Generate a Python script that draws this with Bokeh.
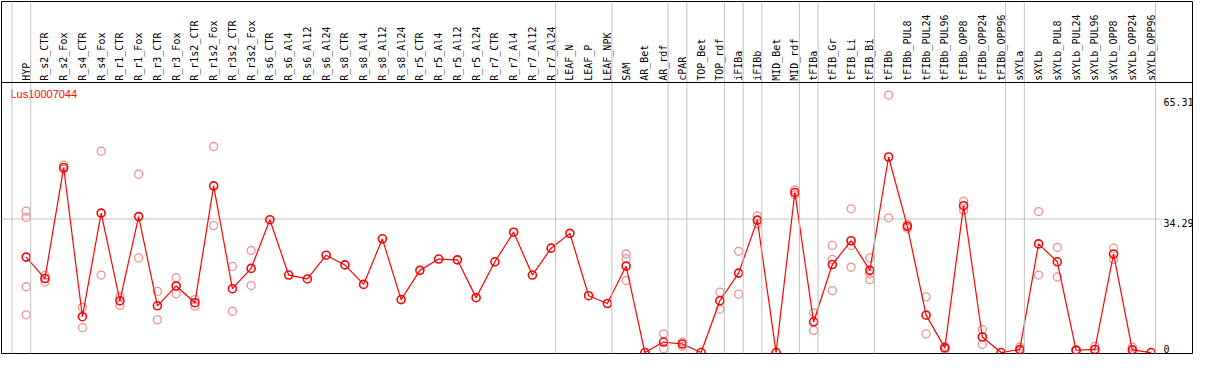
import math
from bokeh.plotting import figure
from bokeh.models import Range1d, Span
from bokeh.core.properties import value
from bokeh.embed import file_html
from bokeh.resources import INLINE

gene = "Lus10007044"

categories = [
    "HYP", "R_s2_CTR", "R_s2_Fox", "R_s4_CTR", "R_s4_Fox", "R_r1_CTR", "R_r1_Fox",
    "R_r3_CTR", "R_r3_Fox", "R_r1s2_CTR", "R_r1s2_Fox", "R_r3s2_CTR", "R_r3s2_Fox",
    "R_s6_CTR", "R_s6_Al4", "R_s6_Al12", "R_s6_Al24", "R_s8_CTR", "R_s8_Al4",
    "R_s8_Al12", "R_s8_Al24", "R_r5_CTR", "R_r5_Al4", "R_r5_Al12", "R_r5_Al24",
    "R_r7_CTR", "R_r7_Al4", "R_r7_Al12", "R_r7_Al24", "LEAF_N", "LEAF_P", "LEAF_NPK",
    "SAM", "AR_Bet", "AR_rdf", "cPAR", "TOP_Bet", "TOP_rdf", "iFIBa", "iFIBb",
    "MID_Bet", "MID_rdf", "tFIBa", "tFIB_Gr", "tFIB_Li", "tFIB_Bi", "tFIBb",
    "tFIBb_PUL8", "tFIBb_PUL24", "tFIBb_PUL96", "tFIBb_OPP8", "tFIBb_OPP24",
    "tFIBb_OPP96", "sXYLa", "sXYLb", "sXYLb_PUL8", "sXYLb_PUL24", "sXYLb_PUL96",
    "sXYLb_OPP8", "sXYLb_OPP24", "sXYLb_OPP96",
]

means = [
    24.5, 19.0, 47.5, 9.2, 35.8, 13.3, 34.9, 12.0, 17.1, 12.8, 42.8, 16.4, 21.6,
    34.1, 19.9, 18.9, 25.0, 22.5, 17.5, 29.2, 13.6, 21.1, 24.0, 23.8, 14.1,
    23.3, 30.9, 19.9, 26.8, 30.6, 14.6, 12.6,
    22.2, 0.0, 2.7, 2.2, 0.0, 13.3, 20.4, 34.0, 0.0, 41.1, 7.9, 22.6, 28.7, 21.1,
    50.2, 32.4, 9.6, 1.2, 37.7, 4.0, 0.0,
    0.8, 27.9, 23.3, 0.6, 0.8, 25.3, 0.7, 0.0,
]

replicates = [
    [36.3, 34.7, 16.9, 9.7], [19.8, 18.1], [48.1, 47.1], [11.6, 6.4], [51.7, 19.9],
    [14.3, 12.1], [45.8, 24.3], [15.7, 8.4], [19.2, 15.1], [13.6, 11.9],
    [52.9, 32.6], [22.1, 10.6], [26.2, 17.2],
    [], [], [], [], [], [], [], [], [], [], [], [], [], [], [], [], [], [], [],
    [25.3, 24.1, 18.5], [], [4.8, 1.0], [2.7, 1.6], [], [15.5, 11.1], [26.0, 15.0],
    [35.1, 33.1], [], [41.7, 40.5], [10.2, 5.7], [27.5, 23.9, 15.9],
    [36.9, 27.5, 21.9], [24.3, 20.2, 18.7],
    [66.1, 34.6], [32.9, 31.9], [14.3, 4.8], [1.6, 0.9], [38.9, 36.5], [5.9, 2.1], [],
    [1.4, 0.4], [36.2, 19.9], [27.0, 19.4], [0.8, 0.4], [1.6, 0.0], [26.8, 23.9],
    [1.4, 0.0], [],
]

separators_after = [-1, 0, 28, 31, 34, 35, 37, 38, 39, 41, 42, 45, 52, 53, 60]
tick_values = [65.31, 34.29, 0.0]
tick_labels = ["65.31", "34.29", "0"]
grid_values = [34.29]

HEADER_Y = 69.33
RED = "#ff0000"
PINK = "#f09090"
GRAY = "#c0c0c0"

xs = list(range(len(categories)))
rep_x = [i for i, reps in enumerate(replicates) for _ in reps]
rep_y = [v for reps in replicates for v in reps]

p = figure(
    width=1193, height=354, output_backend="svg", toolbar_location=None,
    x_range=Range1d(-1.316, 62.21), y_range=Range1d(-0.24, 90.12),
    x_axis_type=None, y_axis_type=None, min_border=1,
    outline_line_color="black", outline_line_width=1,
    background_fill_color="white", border_fill_color="white",
)

for s in separators_after:
    p.add_layout(Span(location=s + 0.24, dimension="height", line_color=GRAY, line_width=1))

for g in grid_values:
    p.segment(x0=[-1.4], y0=[g], x1=[60.6], y1=[g], line_color=GRAY, line_width=1)

p.add_layout(Span(location=HEADER_Y, dimension="width", line_color="black", line_width=1))

p.text(x=xs, y=[HEADER_Y + 0.45] * len(xs), text=categories, angle=math.pi / 2,
       text_align="left", text_baseline="middle",
       text_font=value("DejaVu Sans Mono"), text_font_size="10px", text_color="black")

p.text(x=[-0.84], y=[66.4], text=[gene], text_align="left", text_baseline="middle",
       text_font=value("Liberation Sans"), text_font_size="11px", text_color=RED)

p.text(x=[60.66] * 2, y=tick_values[:2], text=tick_labels[:2], text_align="left",
       text_baseline="top", text_font=value("DejaVu Sans Mono"),
       text_font_size="10px", text_color="black")
p.text(x=[60.66], y=tick_values[2:], text=tick_labels[2:], text_align="left",
       text_baseline="bottom", text_font=value("DejaVu Sans Mono"),
       text_font_size="10px", text_color="black")

p.scatter(rep_x, rep_y, marker="circle", size=8, fill_color=None,
          line_color=PINK, line_width=1.3)
p.line(xs, means, line_color=RED, line_width=1.2)
p.scatter(xs, means, marker="circle", size=8, fill_color=None,
          line_color=RED, line_width=1.6)

open("out.html", "w").write(file_html(p, INLINE))
